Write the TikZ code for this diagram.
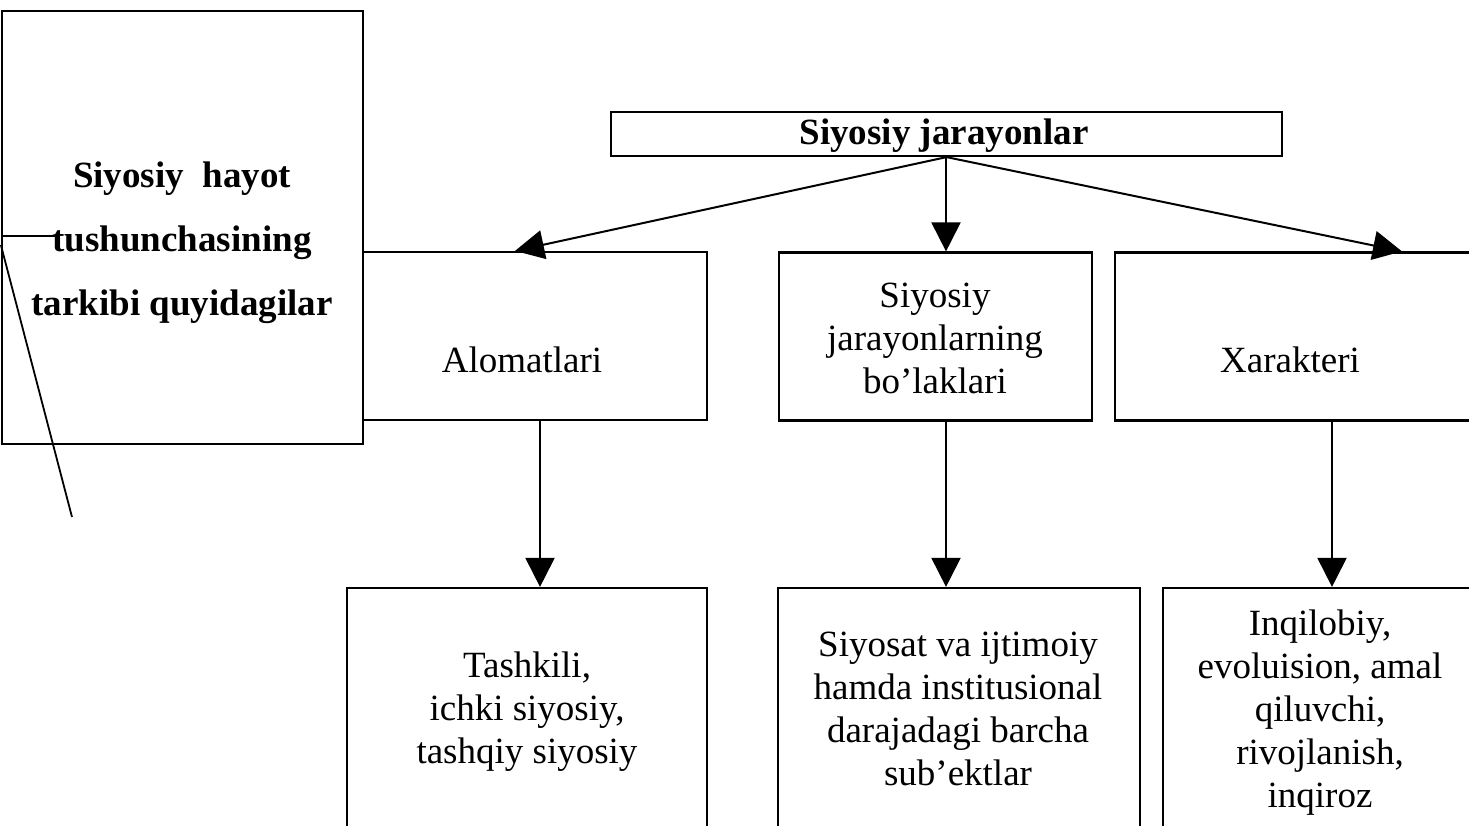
\documentclass[tikz,border=0pt]{standalone}
\usepackage{fontspec}
\setmainfont{Liberation Serif}
\usetikzlibrary{arrows.meta}

\tikzset{
  box/.style={draw, line width=2.2pt, rectangle, inner sep=0pt},
  txt/.style={align=center, inner sep=0pt, font=\fontsize{37}{43}\selectfont},
  btxt/.style={align=center, inner sep=0pt, font=\fontsize{37}{64}\selectfont\bfseries},
  arr/.style={-{Triangle[length=29pt,width=29pt]}, line width=2pt},
}

\begin{document}
\begin{tikzpicture}[x=1pt,y=-1pt]
      \useasboundingbox (0,0) rectangle (1469,825);
      \clip (0,0) rectangle (1469,825);
      % top box
      \node[box, minimum width=671pt, minimum height=44pt] (top) at (946.5,134) {};
      \node[btxt, anchor=base] (topT) at (944,144) {Siyosiy jarayonlar};
      % middle row
      \node[box, minimum width=370pt, minimum height=168pt] (alom) at (522,336) {};
      \node[txt, anchor=base] (alomT) at (522,372) {Alomatlari};
      \node[box, minimum width=313pt, minimum height=168pt] (bol) at (935.5,336.5) {};
      \node[txt] (bolT) at (935,338) {Siyosiy\\jarayonlarning\\bo’laklari};
      \node[box, minimum width=360pt, minimum height=168pt] (xar) at (1295,336.5) {};
      \node[txt, anchor=base] (xarT) at (1290,372) {Xarakteri};
      % bottom row
      \node[box, minimum width=360pt, minimum height=252pt] (b1) at (527,714) {};
      \node[txt] (b1T) at (527,712) {Tashkili,\\ichki siyosiy,\\tashqiy siyosiy};
      \node[box, minimum width=362pt, minimum height=252pt] (b2) at (959,714) {};
      \node[txt] (b2T) at (958,709) {Siyosat va ijtimoiy\\hamda institusional\\darajadagi barcha\\sub’ektlar};
      \node[box, minimum width=317pt, minimum height=252pt] (b3) at (1321.5,714) {};
      \node[txt] (b3T) at (1320,713) {Inqilobiy,\\evoluision, amal\\qiluvchi,\\rivojlanish,\\inqiroz};
      % left box
      \node[box, fill=white, minimum width=361pt, minimum height=433pt] (left) at (182.5,227.5) {};
      \node[btxt] (leftT) at (182,243) {Siyosiy\ \ hayot\\tushunchasining\\tarkibi quyidagilar};
      % arrows from top
      \coordinate (tipL) at (515,0);
      \coordinate (bx) at (946,0);
      \coordinate (tipR) at (1402,0);
      \draw[arr] (top.south) -- (alom.north -| tipL);
      \draw[arr] (top.south -| bx) -- (bol.north -| bx);
      \draw[arr] (top.south) -- (xar.north -| tipR);
      % arrows down
      \coordinate (ax) at (540,0);
      \coordinate (cx) at (1332,0);
      \draw[arr] (alom.south -| ax) -- (b1.north -| ax);
      \draw[arr] (bol.south -| bx) -- (b2.north -| bx);
      \draw[arr] (xar.south -| cx) -- (b3.north -| cx);
      % stray lines
      \coordinate (hEnd) at (55,236);
      \coordinate (dTop) at (2,245);
      \coordinate (dEnd) at (72,517);
      \draw[line width=2pt] (left.west |- hEnd) -- (hEnd);
      \draw[line width=1.8pt] (left.west |- dTop) -- (dEnd);
\end{tikzpicture}
\end{document}
